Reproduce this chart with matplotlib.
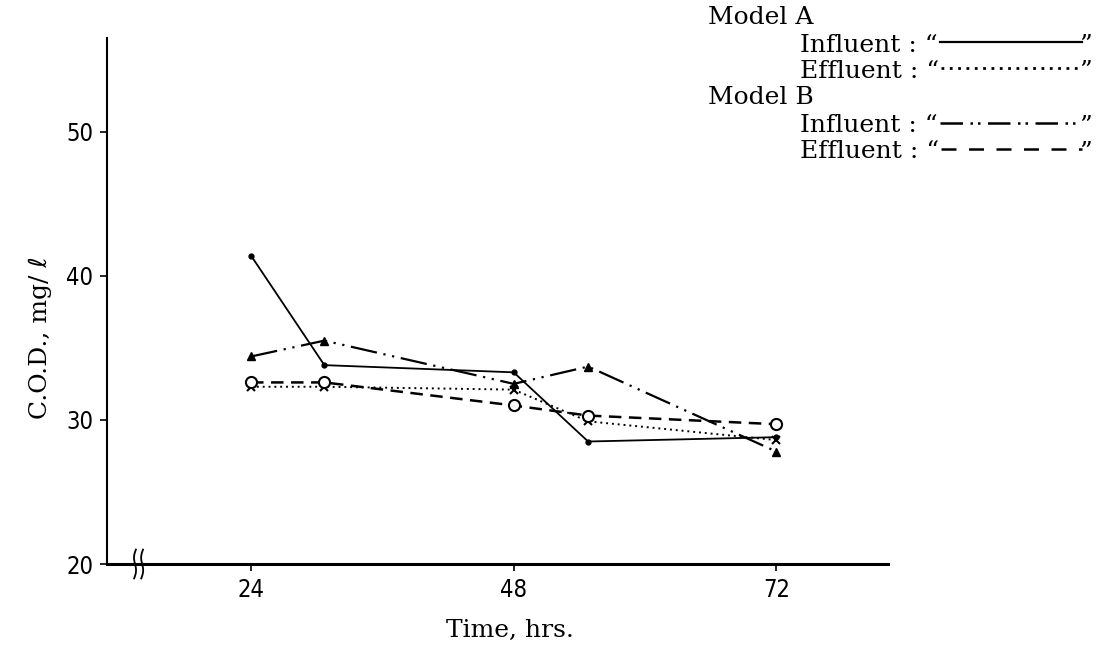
import matplotlib
matplotlib.use("Agg")
import matplotlib.pyplot as plt
import numpy as np

# ---- data ----
time_hrs = [24, 30.7, 48, 54.8, 72]
a_influent = [41.4, 33.8, 33.3, 28.5, 28.8]
a_effluent = [32.3, 32.3, 32.1, 29.9, 28.6]
b_influent = [34.4, 35.5, 32.5, 33.7, 27.8]
b_effluent = [32.6, 32.6, 31.0, 30.3, 29.7]
x_ticks = [24, 48, 72]
x_tick_labels = ["24", "48", "72"]
y_ticks = [20, 30, 40, 50]
y_tick_labels = ["20", "30", "40", "50"]

W, H = 1105, 647
fig = plt.figure(figsize=(W / 100, H / 100), dpi=100)
ax = fig.add_axes([107 / W, 1 - 564 / H, (888 - 107) / W, (564 - 38) / H])

ls_a_inf = "-"
ls_a_eff = (0, (1, 2))
ls_b_inf = (0, (12, 3, 1, 3, 1, 3))
ls_b_eff = (0, (5, 3))

ax.plot(time_hrs, a_influent, color="black", lw=1.3, ls=ls_a_inf,
        marker="o", ms=3.5)
ax.plot(time_hrs, a_effluent, color="black", lw=1.4, ls=ls_a_eff,
        marker="x", ms=6, mew=1.5)
ax.plot(time_hrs, b_influent, color="black", lw=1.6, ls=ls_b_inf,
        marker="^", ms=6)
ax.plot(time_hrs, b_effluent, color="black", lw=1.8, ls=ls_b_eff,
        marker="o", ms=8, mfc="white", mew=1.5)

ax.set_xlim(10.84, 82.2)
ax.set_ylim(20, 56.5)
for s in ["top", "right"]:
    ax.spines[s].set_visible(False)
ax.spines["left"].set_linewidth(1.5)
ax.spines["bottom"].set_linewidth(2.2)

tick_font = dict(family="DejaVu Sans", size=17, stretch="condensed", weight="light")
ax.set_xticks(x_ticks)
ax.set_xticklabels(x_tick_labels, fontdict=tick_font)
ax.set_yticks(y_ticks)
ax.set_yticklabels(y_tick_labels, fontdict=tick_font)
ax.tick_params(axis="both", direction="out", length=5, width=1.2, pad=5)

# axis break marks (long-s shapes) on the x-axis
t = np.linspace(-1, 1, 40)
for x0 in (13.4, 14.05):
    xs = x0 + 0.13 * np.sin(np.pi * t) - 0.08 * t
    ys = 20 - 1.0 * t
    ax.plot(xs, ys, color="black", lw=1.3, clip_on=False)

serif = ["DejaVu Serif", "DejaVu Sans"]
fs = 18
fig.text(510 / W, 1 - 630 / H, "Time, hrs.", family=serif, fontsize=fs,
         ha="center", va="center")
fig.text(40 / W, 1 - 338 / H, "C.O.D., mg/ ℓ", family=serif, fontsize=fs,
         ha="center", va="center", rotation=90)

# legend block: text plus sample line patterns
fig.canvas.draw()
renderer = fig.canvas.get_renderer()

fig.text(708 / W, 1 - 18 / H, "Model A", family=serif, fontsize=fs,
         ha="left", va="center")
fig.text(708 / W, 1 - 98 / H, "Model B", family=serif, fontsize=fs,
         ha="left", va="center")

entries = [
    ("Influent : “", 45, ls_a_inf, 1.6),
    ("Effluent : “", 71, ls_a_eff, 2.0),
    ("Influent : “", 126, (0, (9, 3, 1, 2, 1, 3)), 1.8),
    ("Effluent : “", 152, (0, (6, 5)), 1.8),
]
close_x = 1092
for txt, yc, ls, lw in entries:
    tt = fig.text(800 / W, 1 - yc / H, txt, family=serif, fontsize=fs,
                  ha="left", va="center")
    fig.text(close_x / W, 1 - yc / H, "”", family=serif, fontsize=fs,
             ha="right", va="center")
    bb = tt.get_window_extent(renderer)
    x_start = bb.x1 + 2
    x_end = close_x - 10
    yl = 1 - (yc - 3) / H
    fig.add_artist(plt.Line2D([x_start / W, x_end / W], [yl, yl],
                              transform=fig.transFigure, color="black",
                              lw=lw, ls=ls))

fig.savefig("out.png", dpi=100)
